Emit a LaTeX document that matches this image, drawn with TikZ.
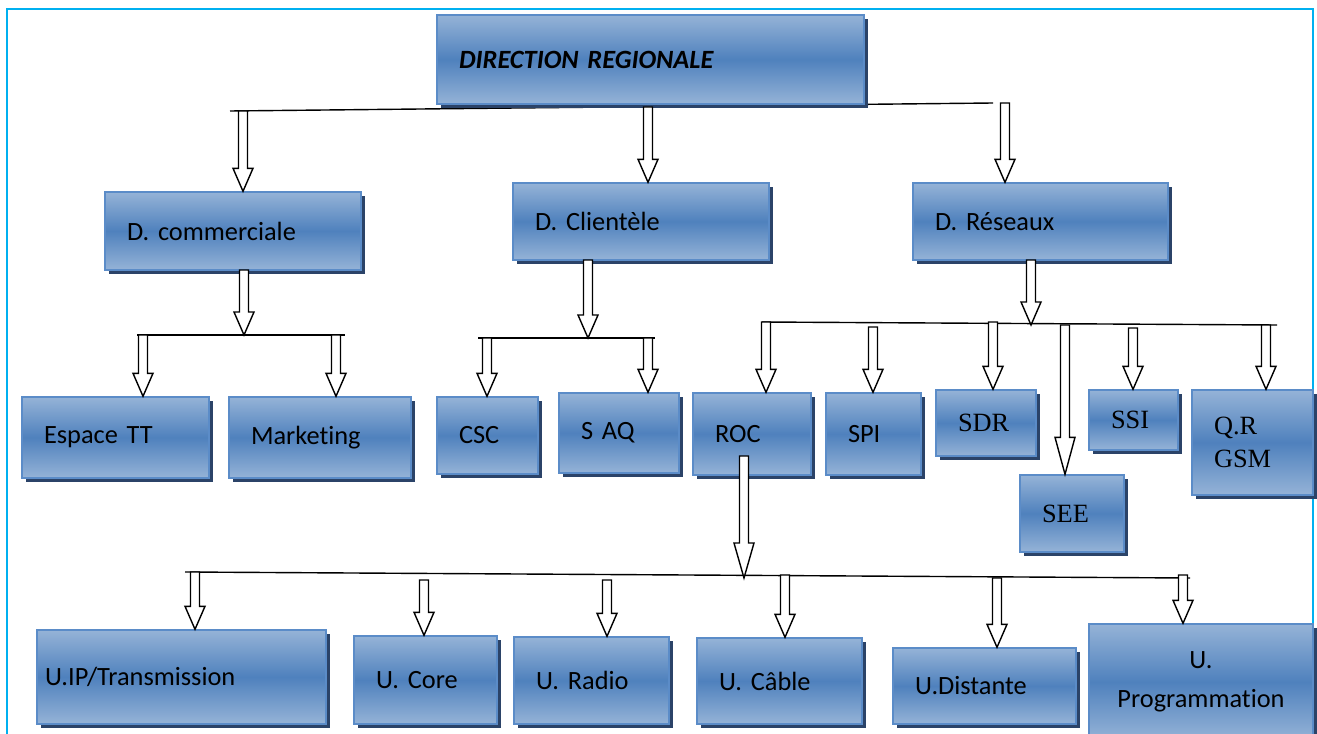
\documentclass[tikz,border=0pt]{standalone}
\usepackage{fontspec}
\setmainfont{Carlito}[Ligatures=NoCommon]
\newfontfamily\romain{Liberation Serif}
\usetikzlibrary{shadows}
\usetikzlibrary{calc}
\frenchspacing
\definecolor{bleuclair}{HTML}{95B3D7}
\definecolor{bleufonce}{HTML}{4F81BD}
\definecolor{bordure}{HTML}{5B8CC8}
\definecolor{ombre}{HTML}{2B4368}
\definecolor{cyanbord}{HTML}{00B0F0}
\tikzstyle{boite}=[draw=bordure, line width=0.8pt, top color=bleuclair, bottom color=bleuclair, middle color=bleufonce, drop shadow={shadow xshift=0.08cm, shadow yshift=-0.08cm, fill=ombre, opacity=1}, inner xsep=0.44cm, align=left, font=\fontsize{15}{18}\selectfont]
\tikzstyle{rboite}=[boite, font=\romain\fontsize{15}{19}\selectfont]
\tikzstyle{bus}=[line width=0.8pt]
\tikzstyle{fleche}=[draw=black, fill=white, line width=0.8pt, line join=miter]
\tikzstyle{cadre}=[draw=cyanbord, line width=1.1pt]
\newcommand{\fleche}[3][0.46cm]{%
  \draw[fleche] let \p1=(#2), \p2=(#3) in
    (\x1-0.09cm,\y1) -- (\x1+0.09cm,\y1) -- (\x1+0.09cm,\y2+#1) -- (\x1+0.2cm,\y2+#1)
    -- (\x1,\y2) -- (\x1-0.2cm,\y2+#1) -- (\x1-0.09cm,\y2+#1) -- cycle;}

\begin{document}
\begin{tikzpicture}[x=0.02cm, y=-0.02cm]
        \useasboundingbox (0,0) rectangle (1317,733);
        \draw[cadre] (7,745) -- (7,9) -- (1313,9) -- (1313,745);

        \coordinate (b1g) at (230,111);
        \coordinate (b1d) at (993,103);
        \coordinate (b2g) at (137,335);
        \coordinate (b2d) at (345,335);
        \coordinate (b3g) at (478,338);
        \coordinate (b3d) at (655,338);
        \coordinate (b4g) at (762,322);
        \coordinate (b4d) at (1277,325);
        \coordinate (b5g) at (185,572);
        \coordinate (b5d) at (1190,578);
        \draw[bus] (b1g) -- (b1d);
        \draw[bus] (b2g) -- (b2d);
        \draw[bus] (b3g) -- (b3d);
        \draw[bus] (b4g) -- (b4d);
        \draw[bus] (b5g) -- (b5d);

        \node[boite, text width=7.66cm, minimum height=1.78cm, font=\bfseries\itshape\fontsize{15}{18}\selectfont] (dir) at (650.5,59.5) {DIRECTION REGIONALE};
        \node[boite, text width=4.24cm, minimum height=1.56cm] (dcom) at (233,231) {D. commerciale};
        \node[boite, text width=4.24cm, minimum height=1.54cm] (dcli) at (641,221.5) {D. Clientèle};
        \node[boite, text width=4.22cm, minimum height=1.54cm] (dres) at (1040.5,221.5) {D. Réseaux};

        \node[boite, text width=2.86cm, minimum height=1.62cm] (esp) at (115.5,437.5) {Espace TT};
        \node[boite, text width=2.76cm, minimum height=1.62cm] (mkt) at (320,437.5) {Marketing};
        \node[boite, text width=1.14cm, minimum height=1.54cm] (csc) at (487.5,435.5) {CSC};
        \node[boite, text width=1.52cm, minimum height=1.60cm] (saq) at (619,433) {S AQ};
        \node[boite, text width=1.48cm, minimum height=1.64cm] (roc) at (752,434) {ROC};
        \node[boite, text width=1.02cm, minimum height=1.64cm] (spi) at (873.5,434) {SPI};
        \node[rboite, text width=1.12cm, minimum height=1.32cm] (sdr) at (986,423) {SDR};
        \node[rboite, text width=1.20cm, minimum height=1.54cm] (see) at (1072,513.5) {SEE};
        \node[rboite, text width=0.90cm, minimum height=1.20cm] (ssi) at (1133.5,420) {SSI};
        \node[rboite, text width=1.54cm, minimum height=2.10cm] (qr) at (1252.5,442.5) {Q.R\\GSM};

        \node[boite, inner xsep=0.16cm, text width=5.46cm, minimum height=1.88cm] (uip) at (181.5,677) {U.IP/Transmission};
        \node[boite, text width=1.98cm, minimum height=1.76cm] (ucore) at (425.5,680) {U. Core};
        \node[boite, text width=2.22cm, minimum height=1.74cm] (uradio) at (591.5,680.5) {U. Radio};
        \node[boite, text width=2.42cm, minimum height=1.72cm] (ucable) at (779.5,681) {U. Câble};
        \node[boite, text width=2.78cm, minimum height=1.52cm] (udist) at (984.5,686) {U.Distante};
        \node[boite, align=center, text width=3.60cm, minimum height=2.32cm, font=\fontsize{15}{22}\selectfont] (uprog) at (1201,682) {U.\\Programmation};

        \coordinate (h1) at (243,111);
        \coordinate (h2) at (648,107);
        \coordinate (h3) at (1005,103);
        \coordinate (c0) at (244,270);
        \coordinate (c1) at (143,335);
        \coordinate (c2) at (336,335);
        \coordinate (d0) at (588,260);
        \coordinate (d1) at (487,338);
        \coordinate (d2) at (648,338);
        \coordinate (e0) at (1031,260);
        \coordinate (e1) at (766,322);
        \coordinate (e2) at (873,327);
        \coordinate (e3) at (993,322);
        \coordinate (e4) at (1065,325);
        \coordinate (e5) at (1133,328);
        \coordinate (e6) at (1266,325);
        \coordinate (f0) at (744,456);
        \coordinate (f1) at (195,572);
        \coordinate (f2) at (424,580);
        \coordinate (f3) at (607,580);
        \coordinate (f4) at (785,575);
        \coordinate (f5) at (997,578);
        \coordinate (f6) at (1183,575);

        \fleche{h1}{dcom.north}
        \fleche{h2}{dcli.north}
        \fleche{h3}{dres.north}
        \fleche{c0}{b2g}
        \fleche{c1}{esp.north}
        \fleche{c2}{mkt.north}
        \fleche{d0}{b3g}
        \fleche{d1}{csc.north}
        \fleche{d2}{saq.north}
        \fleche{e0}{b4d}
        \fleche{e1}{roc.north}
        \fleche{e2}{spi.north}
        \fleche{e3}{sdr.north}
        \fleche[0.74cm]{e4}{see.north}
        \fleche{e5}{ssi.north}
        \fleche{e6}{qr.north}
        \fleche[0.7cm]{f0}{b5d}
        \fleche{f1}{uip.north}
        \fleche{f2}{ucore.north}
        \fleche{f3}{uradio.north}
        \fleche{f4}{ucable.north}
        \fleche{f5}{udist.north}
        \fleche{f6}{uprog.north}
    \end{tikzpicture}
\end{document}
